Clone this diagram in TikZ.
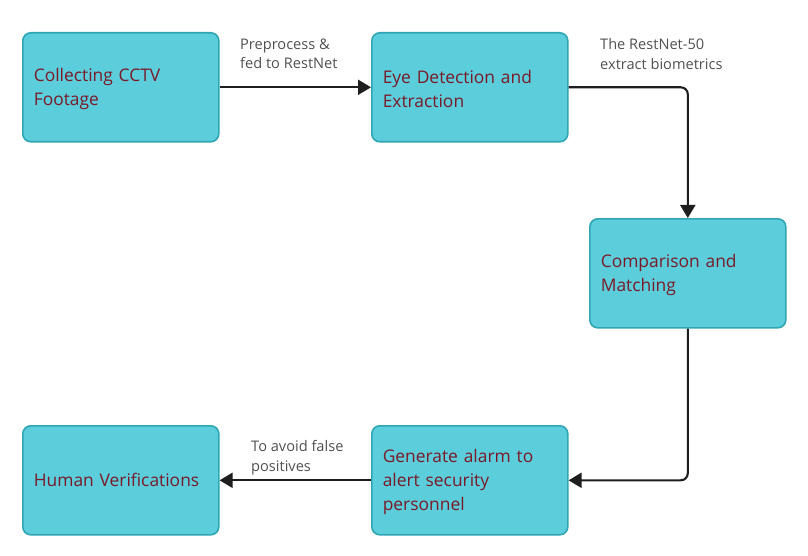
\documentclass[tikz,border=0pt]{standalone}
\usepackage{fontspec}
\setmainfont{Open Sans}
\usetikzlibrary{arrows.meta}
\definecolor{boxfill}{HTML}{5BCDDB}
\definecolor{boxline}{HTML}{2FA6B4}
\definecolor{boxtext}{HTML}{7A1A28}
\definecolor{lbltext}{HTML}{505050}
\definecolor{arr}{HTML}{1E1E1E}
\tikzset{
  stepbox/.style={draw=boxline, line width=1.6pt, fill=boxfill, rounded corners=8pt,
    minimum width=196pt, minimum height=109pt, anchor=north west},
  boxtxt/.style={text width=174pt, inner sep=0pt, align=left, text=boxtext,
    font=\fontsize{17.4}{24}\selectfont},
  lbl/.style={anchor=west, inner sep=0pt, align=left, text=lbltext, font=\fontsize{14.6}{19.5}\selectfont},
  conn/.style={draw=arr, line width=2.1pt, rounded corners=7pt, -{Triangle[length=13pt,width=15pt]}}
}
\begin{document}
\begin{tikzpicture}[x=1pt,y=-1pt]
\useasboundingbox (0,0) rectangle (808,556);
\node[stepbox] (b1) at (22,32) {};
\node[stepbox] (b2) at (371,32) {};
\node[stepbox] (b3) at (589,218) {};
\node[stepbox] (b4) at (22,425) {};
\node[stepbox] (b5) at (371,425) {};
\node[boxtxt] (t1) at ([yshift=-2pt]b1.center) {Collecting CCTV\\Footage};
\node[boxtxt] (t2) at ([yshift=-2pt]b2.center) {Eye Detection and\\Extraction};
\node[boxtxt] (t3) at ([yshift=-2pt]b3.center) {Comparison and\\Matching};
\node[boxtxt] (t4) at (b4.center) {Human Verifications};
\node[boxtxt] (t5) at ([yshift=-2pt]b5.center) {Generate alarm to\\alert security\\personnel};
\node[lbl] (l1) at (240,54) {Preprocess \&\\fed to RestNet};
\node[lbl] (l2) at (600,54) {The RestNet-50\\extract biometrics};
\node[lbl] (l3) at (251,457.5) {To avoid false\\positives};
\draw[conn] (b1.east) -- (b2.west);
\draw[conn] (b2.east) -| (b3.north);
\draw[conn] (b3.south) |- (b5.east);
\draw[conn] (b5.west) -- (b4.east);
\end{tikzpicture}
\end{document}
